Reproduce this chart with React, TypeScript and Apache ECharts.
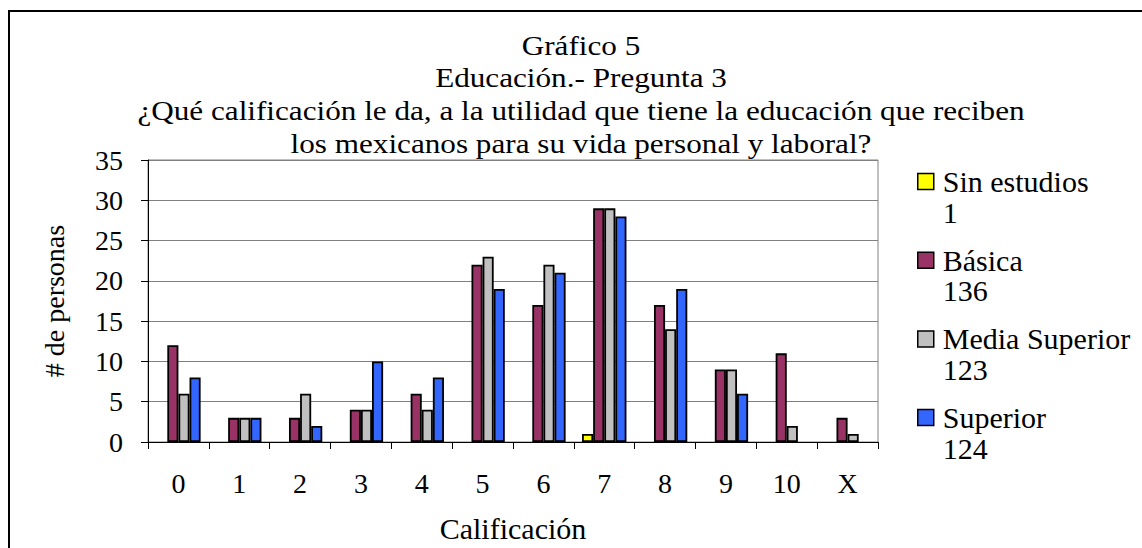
import React, { useEffect, useRef } from "react";
import * as echarts from "echarts";

const categories = ["0", "1", "2", "3", "4", "5", "6", "7", "8", "9", "10", "X"];
const sinEstudios = [0, 0, 0, 0, 0, 0, 0, 1, 0, 0, 0, 0];
const basica = [12, 3, 3, 4, 6, 22, 17, 29, 17, 9, 11, 3];
const mediaSuperior = [6, 3, 6, 4, 4, 23, 22, 29, 14, 9, 2, 1];
const superior = [8, 3, 2, 10, 8, 19, 21, 28, 19, 6, 0, 0];
const seriesNames = ["Sin estudios", "Básica", "Media Superior", "Superior"];
const seriesColors = ["#FFFF00", "#993366", "#C0C0C0", "#3366FF"];
const titleLines = [
  "Gráfico 5",
  "Educación.- Pregunta 3",
  "¿Qué calificación le da, a la utilidad que tiene la educación que reciben",
  "los mexicanos para su vida personal y laboral?",
];
const yMin = 0;
const yMax = 35;
const yInterval = 5;
const xAxisName = "Calificación";
const yAxisName = "# de personas";

const FONT = "Liberation Serif";

export default function App() {
  const ref = useRef<HTMLDivElement>(null);
  useEffect(() => {
    if (!ref.current) return;
    const chart = echarts.init(ref.current, null, { renderer: "svg" });
    const data = [sinEstudios, basica, mediaSuperior, superior];
    const totals: Record<string, number> = {};
    seriesNames.forEach((n, i) => {
      totals[n] = data[i].reduce((a, b) => a + b, 0);
    });
    chart.setOption({
      animation: false,
      backgroundColor: "#fff",
      textStyle: { fontFamily: FONT },
      graphic: [
        {
          type: "rect",
          shape: { x: 9, y: 11, width: 1400, height: 800 },
          style: { fill: "none", stroke: "#000", lineWidth: 2 },
          silent: true,
        },
        {
          type: "text",
          x: 581,
          y: 29,
          scaleX: 1.114,
          style: {
            text: titleLines.join("\n"),
            fontFamily: FONT,
            fontSize: 28,
            lineHeight: 32.7,
            align: "center",
            verticalAlign: "top",
            fill: "#000",
          },
        },
      ],
      grid: {
        left: 148,
        top: 160,
        right: 264,
        bottom: 106,
        show: true,
        borderColor: "#808080",
        borderWidth: 1,
        containLabel: false,
      },
      legend: {
        orient: "vertical",
        left: 917,
        top: 136,
        padding: 0,
        itemWidth: 16,
        itemHeight: 16,
        itemGap: -12.3,
        data: seriesNames,
        icon: "rect",
        itemStyle: { borderColor: "#000", borderWidth: 1.5 },
        formatter: (name: string) => `{s| }\n{n|${name}}\n{n|${totals[name]}}`,
        textStyle: {
          fontFamily: FONT,
          fontSize: 30,
          color: "#000",
          rich: {
            s: { fontFamily: FONT, fontSize: 30, lineHeight: 30.5, padding: [0, 0, 0, 4] },
            n: { fontFamily: FONT, fontSize: 30, lineHeight: 30.5, padding: [0, 0, 0, 4], color: "#000" },
          },
        },
      },
      xAxis: {
        type: "category",
        data: categories,
        boundaryGap: true,
        axisLine: { show: true, lineStyle: { color: "#000", width: 1 } },
        axisTick: { show: true, length: 7, lineStyle: { color: "#000" } },
        axisLabel: { color: "#000", fontSize: 28, fontFamily: FONT, margin: 27 },
        name: xAxisName,
        nameLocation: "middle",
        nameGap: 71,
        nameTextStyle: { color: "#000", fontSize: 30, fontFamily: FONT },
      },
      yAxis: {
        type: "value",
        min: yMin,
        max: yMax,
        interval: yInterval,
        axisLine: { show: true, lineStyle: { color: "#000", width: 1 } },
        axisTick: { show: true, length: 7, lineStyle: { color: "#000" } },
        axisLabel: { color: "#000", fontSize: 28, fontFamily: FONT, margin: 25 },
        splitLine: { show: true, lineStyle: { color: "#808080", width: 1 } },
        name: yAxisName,
        nameLocation: "middle",
        nameGap: 80,
        nameTextStyle: { color: "#000", fontSize: 28, fontFamily: FONT },
      },
      series: seriesNames.map((name, i) => ({
        name,
        type: "bar",
        data: data[i].map((v) => (v === 0 ? "-" : v)),
        barGap: "0%",
        barCategoryGap: "27%",
        itemStyle: { color: seriesColors[i], borderColor: "#000", borderWidth: 1.8 },
      })),
    });
    return () => chart.dispose();
  }, []);
  return (
    <div
      ref={ref}
      style={{ position: "fixed", left: 0, top: 0, width: 1142, height: 548 }}
    />
  );
}
